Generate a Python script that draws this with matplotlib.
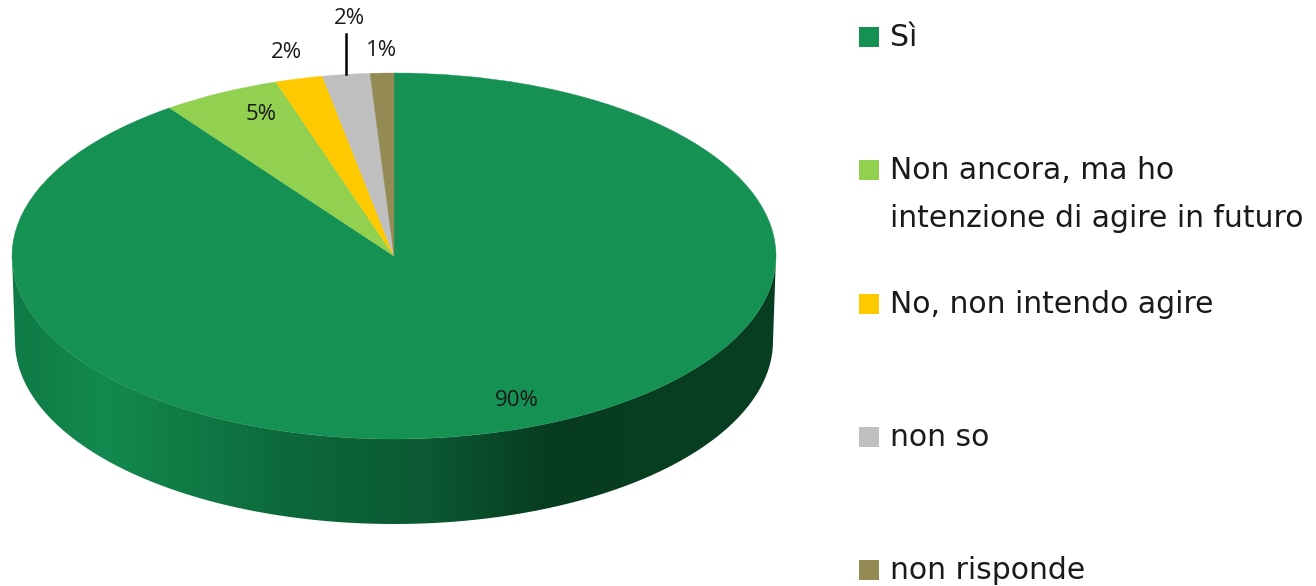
import matplotlib
matplotlib.use("Agg")
import matplotlib.pyplot as plt
import numpy as np
from matplotlib.patches import Wedge, Rectangle, PathPatch
from matplotlib.path import Path
from matplotlib.transforms import Affine2D
from matplotlib.colors import LinearSegmentedColormap

plt.rcParams['font.family'] = ['Open Sans', 'DejaVu Sans']

# dati
labels = ["Sì", "Non ancora, ma ho\nintenzione di agire in futuro",
          "No, non intendo agire", "non so", "non risponde"]
values = [90, 5, 2, 2, 1]
pct_labels = ["90%", "5%", "2%", "2%", "1%"]
colors = ["#149153", "#92d050", "#ffc900", "#bfbfbf", "#948a54"]

# geometria della torta (pixel)
cx, cy, rx, ry, depth = 394, 256, 382, 183, 85

fig = plt.figure(figsize=(13.16, 5.86), dpi=100)
ax = fig.add_axes([0, 0, 1, 1])
ax.set_xlim(0, 1316)
ax.set_ylim(586, 0)
ax.axis("off")

ell = Affine2D().scale(rx, -ry).translate(cx, cy)

# lato (solo la parte frontale, tutta "Sì")
t = np.linspace(np.pi, 2 * np.pi, 200)
top_x = cx + rx * np.cos(t)
top_y = cy - ry * np.sin(t)
bot_x = cx + (rx - 3) * np.cos(t[::-1])
bot_y = cy - ry * np.sin(t[::-1]) + depth
verts = np.column_stack([np.r_[top_x, bot_x], np.r_[top_y, bot_y]])
side_path = Path(np.vstack([verts, verts[:1]]), closed=True)
side = PathPatch(side_path, facecolor="none", edgecolor="none")
ax.add_patch(side)

grad = LinearSegmentedColormap.from_list(
    "side", [(0, "#0f7a45"), (0.12, "#138a4f"), (0.35, "#0d6a3b"),
             (0.55, "#0b5832"), (0.7, "#073c21"), (1, "#083f21")])
img = ax.imshow(np.linspace(0, 1, 256)[None, :], cmap=grad, aspect="auto",
                extent=(cx - rx, cx + rx, cy + ry + depth + 2, cy - 5),
                zorder=1)
img.set_clip_path(side)

# faccia superiore
frac = np.array(values) / sum(values) * 360
ends = 90 - np.cumsum(frac)
starts = ends + frac
for i, (a1, a2) in enumerate(zip(ends, starts)):
    w = Wedge((0, 0), 1, a1, a2, facecolor=colors[i], edgecolor=colors[i],
              linewidth=0.3, transform=ell + ax.transData, zorder=2)
    ax.add_patch(w)

# etichette percentuali
lab_kw = dict(fontsize=16, color="#1a1a1a", ha="center", va="center", zorder=4)
ax.text(517, 400, pct_labels[0], **lab_kw)
ax.text(261, 114, pct_labels[1], **lab_kw)
ax.text(286, 52, pct_labels[2], **lab_kw)
ax.text(349, 18, pct_labels[3], **lab_kw)
ax.text(381, 50, pct_labels[4], **lab_kw)
mid = np.deg2rad((ends[3] + starts[3]) / 2)
ax.plot([cx + rx * np.cos(mid)] * 2, [34, cy - ry * np.sin(mid)],
        color="black", lw=1.8, zorder=3)

# legenda
for i, (lab, col) in enumerate(zip(labels, colors)):
    y = 37 + 133.3 * i
    ax.add_patch(Rectangle((859, y - 10), 20, 20, facecolor=col,
                           edgecolor="none"))
    ax.text(890, y - 14, lab, fontsize=21.5, color="#1a1a1a", ha="left",
            va="top", linespacing=1.83, family=["DejaVu Sans"])

fig.savefig("out.png", dpi=100)
